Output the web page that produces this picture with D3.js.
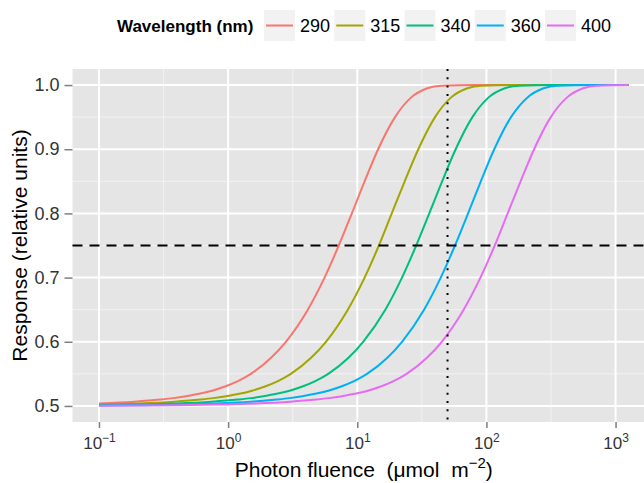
<!DOCTYPE html>
<html>
<head>
<meta charset="utf-8">
<script src="https://cdn.jsdelivr.net/npm/d3@7"></script>
<style>
  html, body { margin: 0; padding: 0; background: #ffffff; }
  svg { display: block; font-family: "Liberation Sans", Arial, Helvetica, sans-serif; }
  text { white-space: pre; }
</style>
</head>
<body>
<svg id="chart" width="644" height="483"></svg>
<script>
// Wavelengths (nm) shown in the legend
const wavelengths = ["290", "315", "340", "360", "400"];
const colours = ["#F8766D", "#A3A500", "#00BF7D", "#00B0F6", "#E76BF3"];

// Photon fluence (µmol m-2) and relative response, one pair of arrays per wavelength
const fluence290  = [0.1, 0.188, 0.299, 0.376, 0.473, 0.596, 0.750, 0.944, 1.19, 1.50, 2.15, 2.80, 4.14, 5.58, 7.19, 9.08, 11.4, 14.5, 19.6, 25.9, 34.9, 44.8, 80.7, 1260];
const response290 = [0.5039, 0.5067, 0.5100, 0.5122, 0.5152, 0.5189, 0.5238, 0.5303, 0.5387, 0.55, 0.575, 0.60, 0.65, 0.70, 0.75, 0.80, 0.85, 0.90, 0.95, 0.98, 0.995, 0.999, 1.0, 1.0];

const fluence315  = [0.1, 0.204, 0.385, 0.610, 0.767, 0.966, 1.22, 1.53, 1.93, 2.43, 3.06, 4.39, 5.72, 8.45, 11.4, 14.7, 18.5, 23.3, 29.7, 40.0, 52.8, 71.2, 91.4, 165, 1260];
const response315 = [0.5021, 0.5039, 0.5067, 0.5100, 0.5122, 0.5152, 0.5189, 0.5238, 0.5303, 0.5387, 0.55, 0.575, 0.60, 0.65, 0.70, 0.75, 0.80, 0.85, 0.90, 0.95, 0.98, 0.995, 0.999, 1.0, 1.0];

const fluence340  = [0.1, 0.200, 0.398, 0.750, 1.19, 1.50, 1.88, 2.37, 2.99, 3.76, 4.73, 5.96, 8.55, 11.1, 16.5, 22.2, 28.6, 36.1, 45.4, 57.8, 77.9, 103, 139, 178, 321, 1260];
const response340 = [0.5012, 0.5021, 0.5039, 0.5067, 0.5100, 0.5122, 0.5152, 0.5189, 0.5238, 0.5303, 0.5387, 0.55, 0.575, 0.60, 0.65, 0.70, 0.75, 0.80, 0.85, 0.90, 0.95, 0.98, 0.995, 0.999, 1.0, 1.0];

const fluence360  = [0.1, 0.200, 0.398, 0.794, 1.50, 2.37, 2.99, 3.76, 4.73, 5.96, 7.50, 9.44, 11.9, 17.1, 22.2, 32.9, 44.3, 57.1, 72.1, 90.5, 115, 155, 206, 277, 356, 641, 1260];
const response360 = [0.5006, 0.5012, 0.5021, 0.5039, 0.5067, 0.5100, 0.5122, 0.5152, 0.5189, 0.5238, 0.5303, 0.5387, 0.55, 0.575, 0.60, 0.65, 0.70, 0.75, 0.80, 0.85, 0.90, 0.95, 0.98, 0.995, 0.999, 1.0, 1.0];

const fluence400  = [0.1, 0.203, 0.405, 0.807, 1.61, 3.03, 4.81, 6.05, 7.62, 9.59, 12.1, 15.2, 19.1, 24.1, 34.6, 45.1, 66.6, 89.9, 116, 146, 184, 234, 315, 417, 562, 721, 1260];
const response400 = [0.5004, 0.5006, 0.5012, 0.5021, 0.5039, 0.5067, 0.5100, 0.5122, 0.5152, 0.5189, 0.5238, 0.5303, 0.5387, 0.55, 0.575, 0.60, 0.65, 0.70, 0.75, 0.80, 0.85, 0.90, 0.95, 0.98, 0.995, 0.999, 1.0];

// Reference lines
const responseThreshold = 0.75;
const fluenceMark = 50;

// Axis breaks
const xTicks = [0.1, 1, 10, 100, 1000];
const yTicks = [0.5, 0.6, 0.7, 0.8, 0.9, 1.0];

const fluences = [fluence290, fluence315, fluence340, fluence360, fluence400];
const responses = [response290, response315, response340, response360, response400];
const series = wavelengths.map((w, i) => ({
  name: w,
  colour: colours[i],
  points: fluences[i].map((f, j) => ({ f: f, r: responses[i][j] }))
}));

// Panel geometry
const panel = { left: 72.5, right: 655, top: 69, bottom: 422 };

// Scales, expanded 5% beyond the data range (log space for x)
const allF = fluences.flat(), allR = responses.flat();
const lx = [Math.log10(d3.min(allF)), Math.log10(d3.max(allF))];
const padX = (lx[1] - lx[0]) * 0.05;
const x = d3.scaleLog()
  .domain([Math.pow(10, lx[0] - padX), Math.pow(10, lx[1] + padX)])
  .range([panel.left, panel.right]);
const ry = [0.5, d3.max(allR)];
const padY = (ry[1] - ry[0]) * 0.05;
const y = d3.scaleLinear()
  .domain([ry[0] - padY, ry[1] + padY])
  .range([panel.bottom, panel.top]);

const svg = d3.select("#chart");

// Panel background
svg.append("rect")
  .attr("x", panel.left).attr("y", panel.top)
  .attr("width", panel.right - panel.left).attr("height", panel.bottom - panel.top)
  .attr("fill", "#E5E5E5");

const grid = svg.append("g");
// Minor grid lines half way between major breaks
const xMinor = xTicks.map(t => t * Math.sqrt(10));
const yMinor = yTicks.slice(0, -1).map(t => t + 0.05);
grid.selectAll(".xminor").data(xMinor.filter(v => x(v) < panel.right)).enter().append("line")
  .attr("x1", d => x(d)).attr("x2", d => x(d))
  .attr("y1", panel.top).attr("y2", panel.bottom)
  .attr("stroke", "#F2F2F2").attr("stroke-width", 1);
grid.selectAll(".yminor").data(yMinor).enter().append("line")
  .attr("x1", panel.left).attr("x2", panel.right)
  .attr("y1", d => y(d)).attr("y2", d => y(d))
  .attr("stroke", "#F2F2F2").attr("stroke-width", 1);
grid.selectAll(".xmajor").data(xTicks).enter().append("line")
  .attr("x1", d => x(d)).attr("x2", d => x(d))
  .attr("y1", panel.top).attr("y2", panel.bottom)
  .attr("stroke", "#FFFFFF").attr("stroke-width", 2);
grid.selectAll(".ymajor").data(yTicks).enter().append("line")
  .attr("x1", panel.left).attr("x2", panel.right)
  .attr("y1", d => y(d)).attr("y2", d => y(d))
  .attr("stroke", "#FFFFFF").attr("stroke-width", 2);

// Response curves
const line = d3.line()
  .x(d => x(d.f))
  .y(d => y(d.r))
  .curve(d3.curveMonotoneX);
svg.append("g").selectAll("path").data(series).enter().append("path")
  .attr("d", d => line(d.points))
  .attr("fill", "none")
  .attr("stroke", d => d.colour)
  .attr("stroke-width", 2);

// Threshold (dashed) and fluence marker (dotted)
svg.append("line")
  .attr("x1", panel.left).attr("x2", panel.right)
  .attr("y1", y(responseThreshold)).attr("y2", y(responseThreshold))
  .attr("stroke", "#000").attr("stroke-width", 2)
  .attr("stroke-dasharray", "10,7");
svg.append("line")
  .attr("x1", x(fluenceMark)).attr("x2", x(fluenceMark))
  .attr("y1", panel.top).attr("y2", panel.bottom)
  .attr("stroke", "#000").attr("stroke-width", 2)
  .attr("stroke-dasharray", "2,6.3");

// Y axis
const yAxis = svg.append("g")
  .attr("transform", `translate(${panel.left},0)`)
  .call(d3.axisLeft(y).tickValues(yTicks).tickSize(8).tickPadding(5).tickFormat(d3.format(".1f")));
yAxis.select(".domain").remove();
yAxis.selectAll(".tick line").attr("stroke", "#7F7F7F").attr("stroke-width", 1.5);
yAxis.selectAll(".tick text")
  .attr("fill", "#333333").style("font-size", "18px");

// X axis with power-of-ten labels
const xAxis = svg.append("g")
  .attr("transform", `translate(0,${panel.bottom})`)
  .call(d3.axisBottom(x).tickValues(xTicks).tickSize(6).tickFormat(""));
xAxis.select(".domain").remove();
xAxis.selectAll(".tick line").attr("stroke", "#7F7F7F").attr("stroke-width", 1.5);
xAxis.selectAll(".tick").each(function (d) {
  const t = d3.select(this).append("text")
    .attr("y", 27).attr("text-anchor", "middle")
    .attr("fill", "#333333").style("font-size", "17px");
  t.append("tspan").text("10");
  t.append("tspan").attr("dy", -7).style("font-size", "12px")
    .text(String(Math.round(Math.log10(d))).replace("-", "\u2212"));
});

// Axis titles
const xt = svg.append("text")
  .attr("x", (panel.left + panel.right) / 2).attr("y", 477)
  .attr("text-anchor", "middle").attr("fill", "#000").style("font-size", "21px");
xt.append("tspan").text("Photon fluence  (\u03BCmol  m");
xt.append("tspan").attr("dy", -9).style("font-size", "15px").text("\u22122");
xt.append("tspan").attr("dy", 9).text(")");

svg.append("text")
  .attr("transform", `translate(27,${(panel.top + panel.bottom) / 2}) rotate(-90)`)
  .attr("text-anchor", "middle").attr("fill", "#000").style("font-size", "21px")
  .text("Response (relative units)");

// Legend
const legend = svg.append("g");
legend.append("text")
  .attr("x", 117).attr("y", 32)
  .style("font-size", "17px").style("font-weight", "bold").attr("fill", "#000")
  .text("Wavelength (nm)");
const keyX = d3.scalePoint().domain(wavelengths).range([264, 545]);
const keys = legend.selectAll(".key").data(series).enter().append("g")
  .attr("transform", d => `translate(${keyX(d.name)},10)`);
keys.append("rect").attr("width", 31).attr("height", 31).attr("fill", "#F2F2F2");
keys.append("line").attr("x1", 2).attr("x2", 29).attr("y1", 15.5).attr("y2", 15.5)
  .attr("stroke", d => d.colour).attr("stroke-width", 2);
keys.append("text").attr("x", 36).attr("y", 22)
  .style("font-size", "18px").attr("fill", "#000")
  .text(d => d.name);
</script>
</body>
</html>
